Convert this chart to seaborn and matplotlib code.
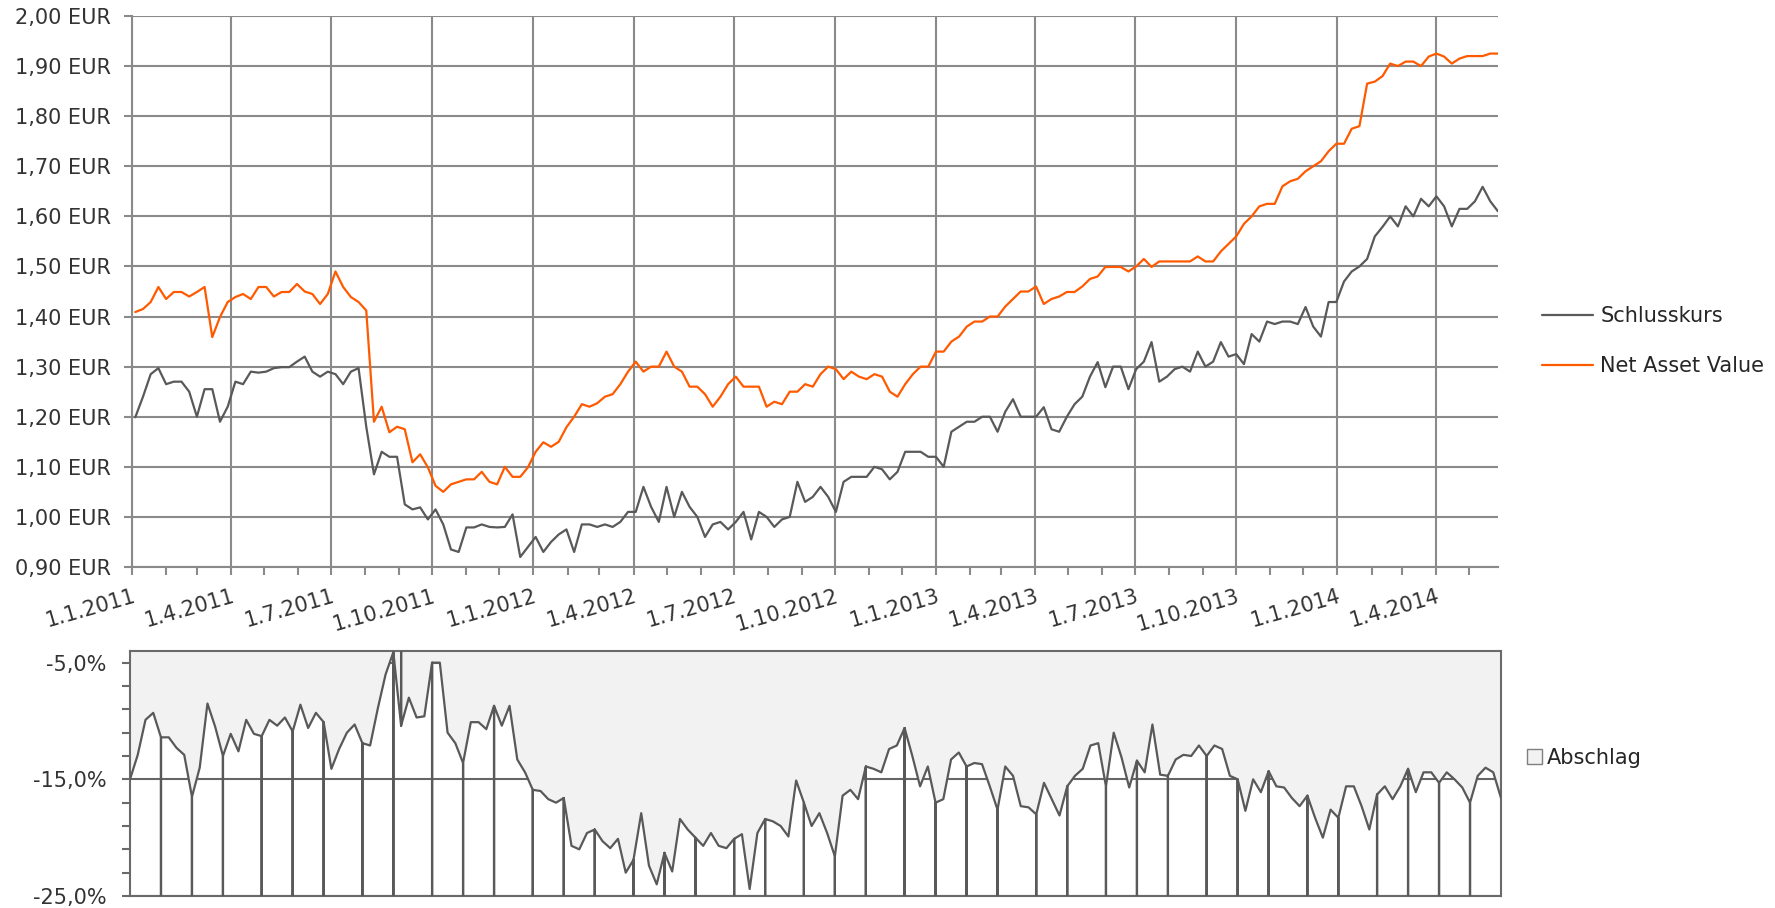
import pandas as pd
import matplotlib
matplotlib.use("Agg")
import matplotlib.pyplot as plt
import matplotlib.dates as mdates
from matplotlib.ticker import FixedLocator, FuncFormatter
from matplotlib.patches import Patch
import seaborn as sns

sns.set_style("white")
plt.rcParams['font.family'] = ['DejaVu Sans']

# weekly samples (Tuesdays) 4.1.2011 - 27.5.2014
dates = pd.date_range("2011-01-04", "2014-05-27", freq="7D")

schlusskurs = [
    1.199, 1.240, 1.285, 1.297, 1.265, 1.270, 1.270, 1.250, 1.200, 1.255,
    1.255, 1.190, 1.220, 1.270, 1.265, 1.290, 1.288, 1.290, 1.297, 1.299,
    1.299, 1.310, 1.320, 1.290, 1.280, 1.290, 1.285, 1.265, 1.290, 1.297,
    1.180, 1.085, 1.130, 1.120, 1.120, 1.025, 1.015, 1.019, 0.995, 1.015,
    0.985, 0.935, 0.930, 0.979, 0.979, 0.985, 0.980, 0.979, 0.980, 1.005,
    0.920, 0.940, 0.960, 0.930, 0.950, 0.965, 0.975, 0.930, 0.985,
    0.985, 0.980, 0.985, 0.980, 0.990, 1.010, 1.010, 1.060, 1.020, 0.990,
    1.060, 1.000, 1.050, 1.020, 1.000, 0.960, 0.985, 0.990, 0.975, 0.990,
    1.010, 0.955, 1.010, 1.000, 0.980, 0.995, 1.000, 1.070, 1.030, 1.040,
    1.060, 1.040, 1.010, 1.070, 1.080, 1.080, 1.080, 1.100, 1.095, 1.075,
    1.090, 1.130, 1.130, 1.130, 1.120, 1.120, 1.100, 1.170, 1.180, 1.190,
    1.190, 1.200, 1.200, 1.170, 1.210, 1.235, 1.200, 1.200, 1.200,
    1.219, 1.175, 1.170, 1.200, 1.225, 1.240, 1.280, 1.309, 1.259, 1.300,
    1.300, 1.255, 1.295, 1.310, 1.349, 1.270, 1.280, 1.295, 1.300, 1.290,
    1.330, 1.300, 1.310, 1.349, 1.320, 1.325, 1.305, 1.365, 1.350, 1.390,
    1.385, 1.390, 1.390, 1.385, 1.419, 1.380, 1.360, 1.429, 1.429, 1.470,
    1.490, 1.500, 1.515, 1.560, 1.579, 1.600, 1.580, 1.620, 1.600, 1.635,
    1.620, 1.640, 1.620, 1.580, 1.615, 1.615, 1.630, 1.659, 1.630, 1.610,
]

nav = [
    1.409, 1.415, 1.429, 1.459, 1.435, 1.449, 1.449, 1.440, 1.449, 1.459,
    1.359, 1.399, 1.429, 1.439, 1.445, 1.435, 1.459, 1.459, 1.440, 1.449,
    1.449, 1.465, 1.450, 1.445, 1.425, 1.445, 1.490, 1.459, 1.439, 1.429,
    1.412, 1.190, 1.220, 1.169, 1.180, 1.175, 1.109, 1.125, 1.099, 1.062,
    1.050, 1.065, 1.070, 1.075, 1.075, 1.090, 1.070, 1.065, 1.100, 1.080,
    1.080, 1.099, 1.130, 1.149, 1.140, 1.150, 1.179, 1.200, 1.225,
    1.220, 1.227, 1.240, 1.245, 1.265, 1.290, 1.310, 1.290, 1.300, 1.300,
    1.330, 1.300, 1.290, 1.260, 1.260, 1.245, 1.220, 1.240, 1.265, 1.280,
    1.260, 1.260, 1.260, 1.220, 1.230, 1.225, 1.250, 1.250, 1.265, 1.260,
    1.285, 1.300, 1.295, 1.275, 1.290, 1.280, 1.275, 1.285, 1.280, 1.250,
    1.240, 1.265, 1.285, 1.300, 1.300, 1.330, 1.330, 1.350, 1.360, 1.380,
    1.390, 1.390, 1.400, 1.400, 1.420, 1.435, 1.450, 1.450, 1.460,
    1.425, 1.435, 1.440, 1.449, 1.449, 1.460, 1.475, 1.480, 1.499, 1.499,
    1.499, 1.490, 1.500, 1.515, 1.499, 1.510, 1.510, 1.510, 1.510, 1.510,
    1.520, 1.510, 1.510, 1.530, 1.545, 1.560, 1.585, 1.600, 1.620, 1.625,
    1.625, 1.660, 1.670, 1.675, 1.690, 1.700, 1.710, 1.730, 1.745, 1.745,
    1.775, 1.780, 1.865, 1.869, 1.880, 1.905, 1.900, 1.909, 1.909, 1.900,
    1.919, 1.925, 1.919, 1.905, 1.915, 1.920, 1.920, 1.920, 1.925, 1.925,
]

# Abschlag in %
abschlag = [
    -15.0, -12.9, -9.9, -9.3, -11.4, -11.4, -12.3, -12.9, -16.5, -14.0,
    -8.5, -10.5, -13.0, -11.1, -12.6, -9.9, -11.1, -11.3, -9.9, -10.4,
    -9.7, -10.9, -8.6, -10.6, -9.3, -10.1, -14.1, -12.4, -11.0, -10.3,
    -11.9, -12.1, -8.9, -6.0, -4.1, -10.4, -8.0, -9.7, -9.6, -5.0,
    -5.0, -11.0, -11.9, -13.6, -10.1, -10.1, -10.7, -8.7, -10.4, -8.7,
    -13.3, -14.4, -15.9, -16.0, -16.7, -17.0, -16.6, -20.7, -21.0,
    -19.6, -19.3, -20.3, -20.9, -20.1, -23.0, -21.9, -17.9, -22.4, -24.0,
    -21.3, -22.9, -18.4, -19.3, -20.0, -20.7, -19.6, -20.7, -20.9, -20.1,
    -19.7, -24.4, -19.6, -18.4, -18.6, -19.0, -19.9, -15.1, -17.0, -19.0,
    -17.9, -19.6, -21.6, -16.4, -15.9, -16.7, -13.9, -14.1, -14.4, -12.4,
    -12.1, -10.6, -13.0, -15.6, -13.9, -17.0, -16.7, -13.3, -12.7, -13.9,
    -13.6, -13.7, -15.6, -17.6, -13.9, -14.7, -17.3, -17.4, -18.0,
    -15.3, -16.7, -18.1, -15.6, -14.7, -14.1, -12.1, -11.9, -15.6, -11.0,
    -13.1, -15.7, -13.4, -14.4, -10.3, -14.6, -14.7, -13.3, -12.9, -13.0,
    -12.1, -13.0, -12.1, -12.4, -14.7, -15.0, -17.7, -15.0, -16.1, -14.3,
    -15.6, -15.7, -16.6, -17.3, -16.4, -18.3, -20.0, -17.6, -18.3, -15.6,
    -15.6, -17.3, -19.3, -16.3, -15.6, -16.7, -15.6, -14.1, -16.1, -14.4,
    -14.4, -15.3, -14.4, -15.0, -15.7, -17.0, -14.7, -14.0, -14.4, -16.6,
]

# weeks with the month-start glitch (value far below the axis) and one jump above
spike_weeks = [4, 8, 12, 17, 21, 25, 30, 34, 39, 43, 47, 52, 56, 60, 65, 69, 73,
               78, 82, 87, 91, 95, 100, 104, 108, 112, 117, 121, 126, 130, 134,
               139, 143, 147, 152, 156, 161, 165, 169, 173]
spike_value = -100.0
jump_weeks = [35]
jump_value = 0.0

yticks_top = [0.9, 1.0, 1.1, 1.2, 1.3, 1.4, 1.5, 1.6, 1.7, 1.8, 1.9, 2.0]
yticks_bottom = [-25, -15, -5]
yticks_bottom_minor = [-23, -21, -19, -17, -13, -11, -9, -7]

grey = "#595959"
orange = "#ff5a00"
gridc = "#8a8a8a"
txt = "#333333"

fig = plt.figure(figsize=(17.75, 9.08), dpi=100)
ax = fig.add_axes([132/1775, 1-567/908, 1366/1775, 551/908])
ax2 = fig.add_axes([130/1775, 1-896/908, 1371/1775, 245/908])

# --- top panel
df = pd.DataFrame({"Datum": dates, "Schlusskurs": schlusskurs, "NAV": nav})
sns.lineplot(data=df, x="Datum", y="Schlusskurs", ax=ax, color=grey, lw=1.6,
             estimator=None, sort=False, label="Schlusskurs", zorder=3)
sns.lineplot(data=df, x="Datum", y="NAV", ax=ax, color=orange, lw=1.6,
             estimator=None, sort=False, label="Net Asset Value", zorder=3)
ax.set_xlim(pd.Timestamp("2011-01-01"), dates[-1])
ax.set_ylim(0.9, 2.0)
ax.xaxis.set_major_locator(mdates.MonthLocator(bymonth=[1, 4, 7, 10]))
ax.xaxis.set_minor_locator(mdates.MonthLocator())


def fmt_date(v, pos):
    d = mdates.num2date(v)
    return f"{d.day}.{d.month}.{d.year}"


ax.xaxis.set_major_formatter(FuncFormatter(fmt_date))
ax.yaxis.set_major_locator(FixedLocator(yticks_top))
ax.yaxis.set_major_formatter(FuncFormatter(lambda v, p: f"{v:.2f} EUR".replace(".", ",")))
ax.grid(True, which="major", color=gridc, lw=1.5)
ax.set_axisbelow(True)
for s in ["top", "right"]:
    ax.spines[s].set_visible(False)
for s in ["left", "bottom"]:
    ax.spines[s].set_color(gridc)
    ax.spines[s].set_linewidth(1.5)
ax.tick_params(axis="both", which="both", direction="out", color=gridc, width=1.5,
               length=6, labelsize=15, labelcolor=txt, left=True, bottom=True)
ax.tick_params(axis="y", pad=9)
ax.tick_params(axis="x", pad=8)
plt.setp(ax.get_xticklabels(), rotation=16, ha="right", va="top", rotation_mode="anchor")
ax.set_xlabel("")
ax.set_ylabel("")
ax.legend(loc="center left", bbox_to_anchor=(1542/1775, 1-341/908),
          bbox_transform=fig.transFigure, frameon=False, fontsize=15,
          handlelength=2.45, handletextpad=0.35, labelspacing=1.45,
          borderpad=0, borderaxespad=0)

# --- bottom panel
line_x, line_y = [], []
for k, (d, v) in enumerate(zip(dates, abschlag)):
    line_x.append(d)
    line_y.append(v)
    if k in spike_weeks:
        line_x += [d, d]
        line_y += [spike_value, v]
    if k in jump_weeks:
        line_x += [d, d]
        line_y += [jump_value, v]
ld = pd.DataFrame({"Datum": line_x, "Abschlag": line_y})

ax2.fill_between(dates, abschlag, 0, color="#f2f2f2", lw=0, zorder=1)
sns.lineplot(data=ld, x="Datum", y="Abschlag", ax=ax2, color=grey, lw=1.6,
             estimator=None, sort=False, zorder=3)
ax2.set_xlim(dates[0], dates[-1])
ax2.set_ylim(-25, -4)
ax2.yaxis.set_major_locator(FixedLocator(yticks_bottom))
ax2.yaxis.set_minor_locator(FixedLocator(yticks_bottom_minor))
ax2.yaxis.set_major_formatter(FuncFormatter(lambda v, p: f"{v:.1f}%".replace(".", ",")))
ax2.grid(True, axis="y", which="major", color="#666666", lw=1.5, zorder=0.5)
ax2.set_axisbelow(True)
for s in ax2.spines.values():
    s.set_color("#6a6a6a")
    s.set_linewidth(1.5)
ax2.tick_params(axis="y", which="both", direction="out", color="#6a6a6a", width=1.5,
                length=6, labelsize=15, labelcolor=txt, left=True, pad=11)
ax2.tick_params(axis="x", which="both", bottom=False, labelbottom=False)
ax2.set_xlabel("")
ax2.set_ylabel("")
ax2.legend(handles=[Patch(facecolor="#f2f2f2", edgecolor="#7f7f7f", label="Abschlag")],
           loc="center left", bbox_to_anchor=(1527/1775, 1-758/908),
           bbox_transform=fig.transFigure, frameon=False, fontsize=15,
           handlelength=0.7, handleheight=0.7, handletextpad=0.25,
           borderpad=0, borderaxespad=0)

fig.savefig("out.png", dpi=100)
